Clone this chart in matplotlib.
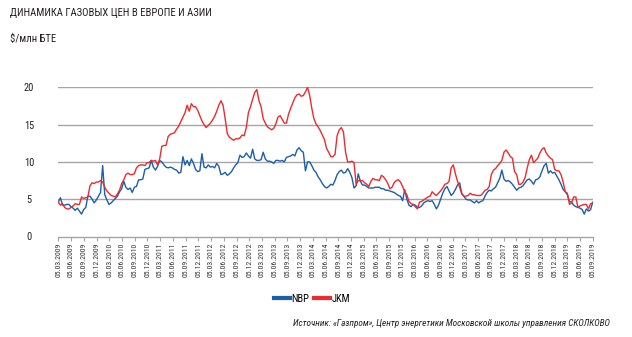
import numpy as np
import pandas as pd
import matplotlib
matplotlib.use("Agg")
import matplotlib.pyplot as plt
from matplotlib.lines import Line2D
from matplotlib import font_manager

# Semi-monthly gas prices, $/MMBtu, March 2009 - September 2019
nbp = [
    4.6, 5.2, 4.2, 4.2, 4.3, 4.3, 4.0, 3.8, 3.5, 3.8, 3.4, 3.0, 3.6, 3.9, 5.4, 5.4,
    5.0, 4.5, 4.9, 5.4, 5.9, 9.5, 5.6, 4.9, 4.3, 4.5, 4.8, 5.1, 5.4, 6.0, 6.4, 7.4,
    6.6, 6.3, 6.5, 5.9, 6.6, 6.7, 7.6, 7.6, 7.7, 9.0, 9.1,
    9.2, 10.2, 9.3, 8.9, 9.4, 10.2, 10.0, 9.6, 9.3, 9.2, 9.3, 9.2, 9.0, 8.9, 8.5, 8.6,
    10.7, 9.6, 10.2, 9.5, 10.4, 9.8, 9.0, 8.7, 8.8, 11.1, 9.3, 9.2, 9.6, 9.3, 9.4, 9.2,
    9.8, 9.4, 8.3, 8.4, 8.6, 8.2, 8.4, 8.7, 9.2, 9.6,
    9.9, 10.9, 10.6, 10.7, 11.2, 10.8, 10.5, 11.7, 10.4, 10.2, 10.2, 10.3, 11.3, 10.4,
    10.1, 10.1, 10.0, 9.8, 10.2, 10.2, 10.1, 10.2, 10.0, 10.6, 10.7, 10.8, 11.0, 10.8,
    11.6, 11.9, 11.5, 11.3, 8.8, 10.0, 10.0, 9.5, 8.9, 8.6, 8.0, 7.6, 7.1, 6.7, 6.5,
    6.7, 7.0, 6.9, 7.5, 8.3, 8.7, 8.9, 8.5, 8.6, 9.1, 8.6, 7.9, 6.5, 6.8, 8.4, 7.4,
    6.9, 6.9, 6.7, 6.5, 6.5, 6.5, 6.6, 6.6, 6.6, 6.4, 6.4, 6.2, 6.2, 6.1, 6.0, 5.9,
    5.7, 5.5, 5.4, 4.8, 6.3, 5.0, 4.2, 4.0, 4.3, 4.2, 3.9,
    3.9, 4.1, 4.5, 4.7, 4.8, 4.7, 4.8, 4.3, 3.7, 4.2, 5.0, 5.8, 6.4, 6.7, 6.1, 5.5,
    5.8, 6.3, 6.9, 7.2, 5.8, 5.4, 5.0, 4.9, 4.9, 4.7, 4.5, 4.8, 4.5, 4.7, 4.8, 5.4,
    5.9, 6.2, 6.1, 6.4, 6.6, 7.2, 7.8, 8.9, 7.7, 7.4,
    7.5, 7.3, 7.0, 6.6, 6.2, 6.5, 6.6, 6.8, 7.2, 7.6, 7.7, 7.4, 7.0, 7.6, 7.7, 8.0,
    8.8, 9.5, 9.8, 8.5, 8.8, 8.5, 8.6, 8.1, 7.6, 7.0, 6.3, 6.0, 5.6, 4.7, 4.6, 4.2,
    4.0, 3.9, 3.8, 3.6, 3.0, 3.7, 3.4, 3.6, 4.6,
]
jkm = [
    4.6, 4.2, 4.4, 3.9, 3.7, 3.7, 3.9, 4.1, 4.4, 4.3, 4.3, 5.3, 5.1, 5.2, 5.3, 6.8,
    7.2, 7.1, 7.3, 7.3, 7.5, 7.3, 6.6, 6.1, 5.8, 5.5, 5.4, 5.3, 5.7, 6.2, 7.1, 7.6,
    8.3, 8.5, 8.3, 8.3, 8.4, 9.2, 9.5, 9.6, 9.6, 9.5, 9.9,
    9.9, 10.2, 10.1, 10.2, 9.6, 10.4, 12.1, 12.2, 12.2, 13.4, 13.7, 13.8, 13.9, 14.4,
    14.8, 15.4, 16.0, 16.6, 17.6, 16.8, 17.8, 17.4, 17.4, 16.9, 16.2, 15.5, 15.0, 14.6,
    14.9, 15.2, 15.6, 16.1, 16.8, 17.6, 18.2, 17.6, 15.8, 13.8, 13.3, 13.1, 12.9, 13.1,
    13.1, 13.2, 13.6, 13.5, 14.6, 16.6, 17.4, 18.4, 19.3, 19.7, 18.2, 17.4, 15.8, 15.2,
    14.7, 14.5, 14.3, 14.5, 15.1, 16.0, 16.2, 15.7, 15.2, 15.2, 16.4, 17.2, 17.9, 18.6,
    19.0, 19.1, 18.8, 18.9, 19.4, 20.0, 18.9, 17.2, 15.8, 15.1, 14.7, 14.2, 13.6, 13.0,
    11.8,
    11.3, 10.7, 10.7, 11.0, 13.5, 14.3, 14.6, 14.0, 11.3, 10.0, 10.0, 10.1, 9.9, 7.0,
    7.5, 7.5, 7.5, 7.2, 7.0, 6.7, 7.4, 7.8, 7.6, 7.6, 7.5, 8.2, 8.0, 7.6, 7.1, 6.4,
    6.6, 7.2, 7.5, 7.6, 7.3, 6.7, 6.0, 5.6, 4.7, 4.4, 4.3, 4.0, 3.7,
    4.6, 4.7, 4.9, 5.1, 5.3, 5.4, 6.0, 5.7, 5.5, 5.8, 6.1, 6.5, 7.0, 7.1, 7.4, 9.2,
    9.6, 8.4, 7.4, 6.6, 5.7, 5.4, 5.4, 5.5, 5.8, 5.6, 5.6, 5.5, 5.5, 5.5, 5.8, 6.2,
    6.3, 6.7, 8.3, 8.9, 9.1, 9.5, 9.8, 10.2, 11.3, 11.6,
    11.2, 10.7, 10.5, 8.7, 8.3, 7.0, 7.0, 7.3, 7.9, 9.2, 10.3, 10.9, 9.9, 10.2, 10.5,
    11.2, 11.7, 11.9, 11.2, 10.8, 10.5, 10.3, 9.0, 8.8, 8.8, 8.3, 7.3, 6.0, 5.8, 4.3,
    4.5, 5.3, 5.3, 3.9, 4.1, 4.2, 4.3, 4.3, 3.7, 4.4, 4.5,
]
dates = pd.date_range("2009-03-05", "2019-09-05", periods=len(nbp))
tick_dates = pd.date_range("2009-03-01", "2019-09-01", freq="3MS") + pd.Timedelta(days=4)
tick_labels = [d.strftime("%d.%m.%Y") for d in tick_dates]

title = "ДИНАМИКА ГАЗОВЫХ ЦЕН В ЕВРОПЕ И АЗИИ"
unit = "$/млн БТЕ"
source = "Источник: «Газпром», Центр энергетики Московской школы управления СКОЛКОВО"

blue = "#1b5faa"
red = "#ec2b2e"
grid = "#a6a6a6"
ink = "#231f20"

# pick a narrow face if one is installed
installed = {f.name for f in font_manager.fontManager.ttflist}
narrow = [n for n in ["Liberation Sans Narrow", "Roboto Condensed", "DejaVu Sans Condensed"]
          if n in installed] + ["Roboto", "DejaVu Sans"]
squeeze = 1.0 if narrow[0] in ("Liberation Sans Narrow", "Roboto Condensed") else 0.82

fig = plt.figure(figsize=(6.32, 3.37), dpi=100)
ax = fig.add_axes([58.3 / 632, 1 - 236.5 / 337, (592.7 - 58.3) / 632, (236.5 - 87.3) / 337])

ax.plot(dates, nbp, color=blue, lw=1.0, zorder=3)
ax.plot(dates, jkm, color=red, lw=1.0, zorder=4)

ax.set_xlim(tick_dates[0], tick_dates[-1])
ax.set_ylim(0, 20)
ax.set_yticks([0, 5, 10, 15, 20])
ax.set_yticklabels(["0", "5", "10", "15", "20"], family=narrow, fontsize=7.5, color=ink)
for lbl in ax.get_yticklabels():
    lbl.set_horizontalalignment("center")
ax.tick_params(axis="y", length=0, pad=21)
ax.set_xticks(tick_dates)
ax.set_xticklabels(tick_labels, rotation=90, family=narrow, fontsize=5.6 * squeeze, color="#333333")
ax.tick_params(axis="x", length=3, width=0.8, color=grid, pad=1.5)

for v in [5, 10, 15, 20]:
    ax.axhline(v, color=grid, lw=1.0, zorder=1)
for side in ["top", "right", "left"]:
    ax.spines[side].set_visible(False)
ax.spines["bottom"].set_color(grid)
ax.spines["bottom"].set_linewidth(1.0)

fig.text(10 / 632, 1 - 12.5 / 337, title, family=narrow, fontsize=7.7 * squeeze, color=ink, va="center")
fig.text(10 / 632, 1 - 38.5 / 337, unit, family=narrow, fontsize=7.7 * squeeze, color=ink, va="center")
fig.text(610 / 632, 1 - 324 / 337, source, family=narrow, fontsize=6.65 * squeeze, color=ink,
         style="italic", ha="right", va="center")

handles = [Line2D([], [], color=blue, lw=3), Line2D([], [], color=red, lw=3)]
fig.legend(handles, ["NBP", "JKM"], loc="center", bbox_to_anchor=(312 / 632, 1 - 298.5 / 337),
           ncol=2, frameon=False, handlelength=1.5, handletextpad=0.15, columnspacing=0.4,
           prop={"family": narrow, "size": 7.6 * squeeze})

fig.savefig("out.png", dpi=100)
